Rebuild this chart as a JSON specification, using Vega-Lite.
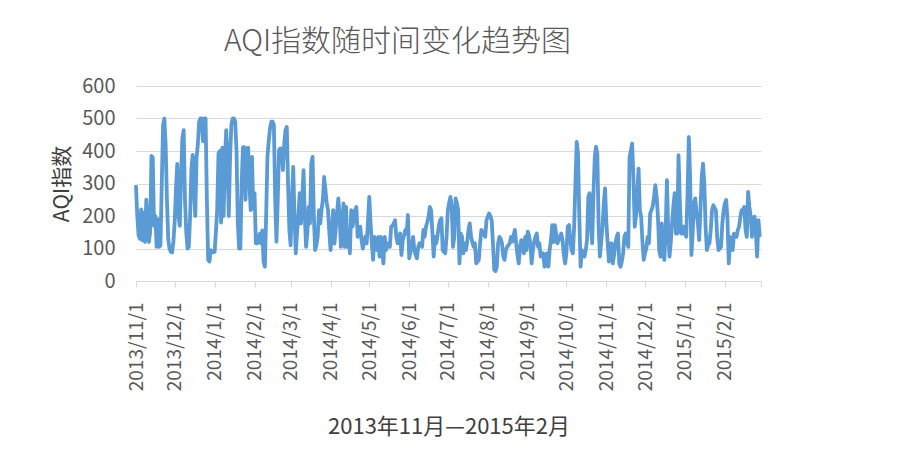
{
  "$schema": "https://vega.github.io/schema/vega-lite/v6.json",
  "width": 625,
  "height": 195,
  "autosize": {"type": "none"},
  "padding": {"left": 136, "top": 86, "right": 142, "bottom": 190},
  "background": "white",
  "title": {"text": "AQI指数随时间变化趋势图", "fontSize": 30, "fontWeight": 300, "color": "#595959", "anchor": "middle", "frame": "group", "dx": -51, "offset": 19, "font": "Noto Sans CJK SC"},
  "datasets": {
    "aqi": [
{"date":"2013/11/1","aqi":290},{"date":"2013/11/2","aqi":200},{"date":"2013/11/3","aqi":140},{"date":"2013/11/4","aqi":130},{"date":"2013/11/5","aqi":220},{"date":"2013/11/6","aqi":125},{"date":"2013/11/7","aqi":210},{"date":"2013/11/8","aqi":120},{"date":"2013/11/9","aqi":250},{"date":"2013/11/10","aqi":190},{"date":"2013/11/11","aqi":120},{"date":"2013/11/12","aqi":150},{"date":"2013/11/13","aqi":385},{"date":"2013/11/14","aqi":380},{"date":"2013/11/15","aqi":170},{"date":"2013/11/16","aqi":200},{"date":"2013/11/17","aqi":105},{"date":"2013/11/18","aqi":190},{"date":"2013/11/19","aqi":105},{"date":"2013/11/20","aqi":110},{"date":"2013/11/21","aqi":300},{"date":"2013/11/22","aqi":480},{"date":"2013/11/23","aqi":500},{"date":"2013/11/24","aqi":420},{"date":"2013/11/25","aqi":250},{"date":"2013/11/26","aqi":130},{"date":"2013/11/27","aqi":100},{"date":"2013/11/28","aqi":90},{"date":"2013/11/29","aqi":88},{"date":"2013/11/30","aqi":120},
{"date":"2013/12/1","aqi":180},{"date":"2013/12/2","aqi":280},{"date":"2013/12/3","aqi":360},{"date":"2013/12/4","aqi":200},{"date":"2013/12/5","aqi":170},{"date":"2013/12/6","aqi":330},{"date":"2013/12/7","aqi":440},{"date":"2013/12/8","aqi":464},{"date":"2013/12/9","aqi":250},{"date":"2013/12/10","aqi":150},{"date":"2013/12/11","aqi":100},{"date":"2013/12/12","aqi":105},{"date":"2013/12/13","aqi":200},{"date":"2013/12/14","aqi":345},{"date":"2013/12/15","aqi":388},{"date":"2013/12/16","aqi":280},{"date":"2013/12/17","aqi":200},{"date":"2013/12/18","aqi":380},{"date":"2013/12/19","aqi":420},{"date":"2013/12/20","aqi":490},{"date":"2013/12/21","aqi":500},{"date":"2013/12/22","aqi":500},{"date":"2013/12/23","aqi":430},{"date":"2013/12/24","aqi":500},{"date":"2013/12/25","aqi":500},{"date":"2013/12/26","aqi":250},{"date":"2013/12/27","aqi":65},{"date":"2013/12/28","aqi":60},{"date":"2013/12/29","aqi":95},{"date":"2013/12/30","aqi":90},{"date":"2013/12/31","aqi":88},
{"date":"2014/1/1","aqi":90},{"date":"2014/1/2","aqi":150},{"date":"2014/1/3","aqi":220},{"date":"2014/1/4","aqi":392},{"date":"2014/1/5","aqi":400},{"date":"2014/1/6","aqi":180},{"date":"2014/1/7","aqi":410},{"date":"2014/1/8","aqi":200},{"date":"2014/1/9","aqi":370},{"date":"2014/1/10","aqi":464},{"date":"2014/1/11","aqi":380},{"date":"2014/1/12","aqi":200},{"date":"2014/1/13","aqi":380},{"date":"2014/1/14","aqi":480},{"date":"2014/1/15","aqi":500},{"date":"2014/1/16","aqi":500},{"date":"2014/1/17","aqi":490},{"date":"2014/1/18","aqi":400},{"date":"2014/1/19","aqi":180},{"date":"2014/1/20","aqi":100},{"date":"2014/1/21","aqi":100},{"date":"2014/1/22","aqi":300},{"date":"2014/1/23","aqi":412},{"date":"2014/1/24","aqi":412},{"date":"2014/1/25","aqi":250},{"date":"2014/1/26","aqi":408},{"date":"2014/1/27","aqi":410},{"date":"2014/1/28","aqi":300},{"date":"2014/1/29","aqi":218},{"date":"2014/1/30","aqi":382},{"date":"2014/1/31","aqi":223},
{"date":"2014/2/1","aqi":270},{"date":"2014/2/2","aqi":116},{"date":"2014/2/3","aqi":116},{"date":"2014/2/4","aqi":120},{"date":"2014/2/5","aqi":146},{"date":"2014/2/6","aqi":116},{"date":"2014/2/7","aqi":156},{"date":"2014/2/8","aqi":60},{"date":"2014/2/9","aqi":44},{"date":"2014/2/10","aqi":200},{"date":"2014/2/11","aqi":382},{"date":"2014/2/12","aqi":430},{"date":"2014/2/13","aqi":470},{"date":"2014/2/14","aqi":490},{"date":"2014/2/15","aqi":490},{"date":"2014/2/16","aqi":480},{"date":"2014/2/17","aqi":250},{"date":"2014/2/18","aqi":121},{"date":"2014/2/19","aqi":250},{"date":"2014/2/20","aqi":402},{"date":"2014/2/21","aqi":408},{"date":"2014/2/22","aqi":408},{"date":"2014/2/23","aqi":341},{"date":"2014/2/24","aqi":420},{"date":"2014/2/25","aqi":464},{"date":"2014/2/26","aqi":474},{"date":"2014/2/27","aqi":300},{"date":"2014/2/28","aqi":157},
{"date":"2014/3/1","aqi":110},{"date":"2014/3/2","aqi":250},{"date":"2014/3/3","aqi":351},{"date":"2014/3/4","aqi":200},{"date":"2014/3/5","aqi":85},{"date":"2014/3/6","aqi":150},{"date":"2014/3/7","aqi":200},{"date":"2014/3/8","aqi":270},{"date":"2014/3/9","aqi":177},{"date":"2014/3/10","aqi":250},{"date":"2014/3/11","aqi":341},{"date":"2014/3/12","aqi":200},{"date":"2014/3/13","aqi":105},{"date":"2014/3/14","aqi":150},{"date":"2014/3/15","aqi":228},{"date":"2014/3/16","aqi":177},{"date":"2014/3/17","aqi":361},{"date":"2014/3/18","aqi":382},{"date":"2014/3/19","aqi":200},{"date":"2014/3/20","aqi":95},{"date":"2014/3/21","aqi":110},{"date":"2014/3/22","aqi":136},{"date":"2014/3/23","aqi":218},{"date":"2014/3/24","aqi":177},{"date":"2014/3/25","aqi":220},{"date":"2014/3/26","aqi":250},{"date":"2014/3/27","aqi":320},{"date":"2014/3/28","aqi":280},{"date":"2014/3/29","aqi":240},{"date":"2014/3/30","aqi":218},{"date":"2014/3/31","aqi":150},
{"date":"2014/4/1","aqi":95},{"date":"2014/4/2","aqi":150},{"date":"2014/4/3","aqi":218},{"date":"2014/4/4","aqi":115},{"date":"2014/4/5","aqi":160},{"date":"2014/4/6","aqi":210},{"date":"2014/4/7","aqi":254},{"date":"2014/4/8","aqi":200},{"date":"2014/4/9","aqi":105},{"date":"2014/4/10","aqi":150},{"date":"2014/4/11","aqi":239},{"date":"2014/4/12","aqi":105},{"date":"2014/4/13","aqi":228},{"date":"2014/4/14","aqi":105},{"date":"2014/4/15","aqi":150},{"date":"2014/4/16","aqi":85},{"date":"2014/4/17","aqi":218},{"date":"2014/4/18","aqi":167},{"date":"2014/4/19","aqi":190},{"date":"2014/4/20","aqi":218},{"date":"2014/4/21","aqi":228},{"date":"2014/4/22","aqi":136},{"date":"2014/4/23","aqi":150},{"date":"2014/4/24","aqi":167},{"date":"2014/4/25","aqi":126},{"date":"2014/4/26","aqi":100},{"date":"2014/4/27","aqi":120},{"date":"2014/4/28","aqi":136},{"date":"2014/4/29","aqi":116},{"date":"2014/4/30","aqi":180},
{"date":"2014/5/1","aqi":259},{"date":"2014/5/2","aqi":180},{"date":"2014/5/3","aqi":116},{"date":"2014/5/4","aqi":65},{"date":"2014/5/5","aqi":136},{"date":"2014/5/6","aqi":110},{"date":"2014/5/7","aqi":95},{"date":"2014/5/8","aqi":136},{"date":"2014/5/9","aqi":75},{"date":"2014/5/10","aqi":136},{"date":"2014/5/11","aqi":90},{"date":"2014/5/12","aqi":54},{"date":"2014/5/13","aqi":136},{"date":"2014/5/14","aqi":95},{"date":"2014/5/15","aqi":110},{"date":"2014/5/16","aqi":116},{"date":"2014/5/17","aqi":105},{"date":"2014/5/18","aqi":167},{"date":"2014/5/19","aqi":170},{"date":"2014/5/20","aqi":177},{"date":"2014/5/21","aqi":187},{"date":"2014/5/22","aqi":136},{"date":"2014/5/23","aqi":116},{"date":"2014/5/24","aqi":130},{"date":"2014/5/25","aqi":146},{"date":"2014/5/26","aqi":80},{"date":"2014/5/27","aqi":126},{"date":"2014/5/28","aqi":140},{"date":"2014/5/29","aqi":157},{"date":"2014/5/30","aqi":146},{"date":"2014/5/31","aqi":203},
{"date":"2014/6/1","aqi":70},{"date":"2014/6/2","aqi":90},{"date":"2014/6/3","aqi":105},{"date":"2014/6/4","aqi":136},{"date":"2014/6/5","aqi":95},{"date":"2014/6/6","aqi":80},{"date":"2014/6/7","aqi":70},{"date":"2014/6/8","aqi":105},{"date":"2014/6/9","aqi":116},{"date":"2014/6/10","aqi":110},{"date":"2014/6/11","aqi":105},{"date":"2014/6/12","aqi":157},{"date":"2014/6/13","aqi":136},{"date":"2014/6/14","aqi":167},{"date":"2014/6/15","aqi":180},{"date":"2014/6/16","aqi":198},{"date":"2014/6/17","aqi":228},{"date":"2014/6/18","aqi":218},{"date":"2014/6/19","aqi":150},{"date":"2014/6/20","aqi":75},{"date":"2014/6/21","aqi":136},{"date":"2014/6/22","aqi":116},{"date":"2014/6/23","aqi":140},{"date":"2014/6/24","aqi":170},{"date":"2014/6/25","aqi":187},{"date":"2014/6/26","aqi":193},{"date":"2014/6/27","aqi":95},{"date":"2014/6/28","aqi":90},{"date":"2014/6/29","aqi":85},{"date":"2014/6/30","aqi":136},
{"date":"2014/7/1","aqi":218},{"date":"2014/7/2","aqi":240},{"date":"2014/7/3","aqi":259},{"date":"2014/7/4","aqi":228},{"date":"2014/7/5","aqi":105},{"date":"2014/7/6","aqi":136},{"date":"2014/7/7","aqi":254},{"date":"2014/7/8","aqi":240},{"date":"2014/7/9","aqi":218},{"date":"2014/7/10","aqi":54},{"date":"2014/7/11","aqi":146},{"date":"2014/7/12","aqi":136},{"date":"2014/7/13","aqi":85},{"date":"2014/7/14","aqi":116},{"date":"2014/7/15","aqi":95},{"date":"2014/7/16","aqi":120},{"date":"2014/7/17","aqi":157},{"date":"2014/7/18","aqi":177},{"date":"2014/7/19","aqi":136},{"date":"2014/7/20","aqi":120},{"date":"2014/7/21","aqi":105},{"date":"2014/7/22","aqi":116},{"date":"2014/7/23","aqi":54},{"date":"2014/7/24","aqi":60},{"date":"2014/7/25","aqi":65},{"date":"2014/7/26","aqi":116},{"date":"2014/7/27","aqi":157},{"date":"2014/7/28","aqi":152},{"date":"2014/7/29","aqi":145},{"date":"2014/7/30","aqi":136},{"date":"2014/7/31","aqi":187},
{"date":"2014/8/1","aqi":198},{"date":"2014/8/2","aqi":208},{"date":"2014/8/3","aqi":200},{"date":"2014/8/4","aqi":187},{"date":"2014/8/5","aqi":116},{"date":"2014/8/6","aqi":34},{"date":"2014/8/7","aqi":30},{"date":"2014/8/8","aqi":44},{"date":"2014/8/9","aqi":116},{"date":"2014/8/10","aqi":136},{"date":"2014/8/11","aqi":130},{"date":"2014/8/12","aqi":116},{"date":"2014/8/13","aqi":75},{"date":"2014/8/14","aqi":65},{"date":"2014/8/15","aqi":95},{"date":"2014/8/16","aqi":105},{"date":"2014/8/17","aqi":110},{"date":"2014/8/18","aqi":116},{"date":"2014/8/19","aqi":136},{"date":"2014/8/20","aqi":121},{"date":"2014/8/21","aqi":140},{"date":"2014/8/22","aqi":157},{"date":"2014/8/23","aqi":116},{"date":"2014/8/24","aqi":80},{"date":"2014/8/25","aqi":54},{"date":"2014/8/26","aqi":105},{"date":"2014/8/27","aqi":126},{"date":"2014/8/28","aqi":100},{"date":"2014/8/29","aqi":85},{"date":"2014/8/30","aqi":136},{"date":"2014/8/31","aqi":95},
{"date":"2014/9/1","aqi":152},{"date":"2014/9/2","aqi":140},{"date":"2014/9/3","aqi":116},{"date":"2014/9/4","aqi":54},{"date":"2014/9/5","aqi":95},{"date":"2014/9/6","aqi":120},{"date":"2014/9/7","aqi":136},{"date":"2014/9/8","aqi":146},{"date":"2014/9/9","aqi":105},{"date":"2014/9/10","aqi":116},{"date":"2014/9/11","aqi":75},{"date":"2014/9/12","aqi":80},{"date":"2014/9/13","aqi":85},{"date":"2014/9/14","aqi":44},{"date":"2014/9/15","aqi":80},{"date":"2014/9/16","aqi":85},{"date":"2014/9/17","aqi":44},{"date":"2014/9/18","aqi":95},{"date":"2014/9/19","aqi":126},{"date":"2014/9/20","aqi":172},{"date":"2014/9/21","aqi":120},{"date":"2014/9/22","aqi":172},{"date":"2014/9/23","aqi":146},{"date":"2014/9/24","aqi":116},{"date":"2014/9/25","aqi":125},{"date":"2014/9/26","aqi":136},{"date":"2014/9/27","aqi":146},{"date":"2014/9/28","aqi":126},{"date":"2014/9/29","aqi":80},{"date":"2014/9/30","aqi":54},
{"date":"2014/10/1","aqi":85},{"date":"2014/10/2","aqi":167},{"date":"2014/10/3","aqi":172},{"date":"2014/10/4","aqi":130},{"date":"2014/10/5","aqi":95},{"date":"2014/10/6","aqi":85},{"date":"2014/10/7","aqi":167},{"date":"2014/10/8","aqi":300},{"date":"2014/10/9","aqi":428},{"date":"2014/10/10","aqi":392},{"date":"2014/10/11","aqi":200},{"date":"2014/10/12","aqi":44},{"date":"2014/10/13","aqi":95},{"date":"2014/10/14","aqi":80},{"date":"2014/10/15","aqi":75},{"date":"2014/10/16","aqi":95},{"date":"2014/10/17","aqi":126},{"date":"2014/10/18","aqi":259},{"date":"2014/10/19","aqi":270},{"date":"2014/10/20","aqi":167},{"date":"2014/10/21","aqi":116},{"date":"2014/10/22","aqi":270},{"date":"2014/10/23","aqi":380},{"date":"2014/10/24","aqi":413},{"date":"2014/10/25","aqi":392},{"date":"2014/10/26","aqi":167},{"date":"2014/10/27","aqi":75},{"date":"2014/10/28","aqi":120},{"date":"2014/10/29","aqi":167},{"date":"2014/10/30","aqi":239},{"date":"2014/10/31","aqi":285},
{"date":"2014/11/1","aqi":180},{"date":"2014/11/2","aqi":116},{"date":"2014/11/3","aqi":60},{"date":"2014/11/4","aqi":116},{"date":"2014/11/5","aqi":116},{"date":"2014/11/6","aqi":54},{"date":"2014/11/7","aqi":80},{"date":"2014/11/8","aqi":116},{"date":"2014/11/9","aqi":136},{"date":"2014/11/10","aqi":146},{"date":"2014/11/11","aqi":54},{"date":"2014/11/12","aqi":44},{"date":"2014/11/13","aqi":60},{"date":"2014/11/14","aqi":85},{"date":"2014/11/15","aqi":136},{"date":"2014/11/16","aqi":146},{"date":"2014/11/17","aqi":120},{"date":"2014/11/18","aqi":105},{"date":"2014/11/19","aqi":382},{"date":"2014/11/20","aqi":400},{"date":"2014/11/21","aqi":423},{"date":"2014/11/22","aqi":320},{"date":"2014/11/23","aqi":167},{"date":"2014/11/24","aqi":200},{"date":"2014/11/25","aqi":270},{"date":"2014/11/26","aqi":346},{"date":"2014/11/27","aqi":218},{"date":"2014/11/28","aqi":198},{"date":"2014/11/29","aqi":120},{"date":"2014/11/30","aqi":65},
{"date":"2014/12/1","aqi":85},{"date":"2014/12/2","aqi":100},{"date":"2014/12/3","aqi":136},{"date":"2014/12/4","aqi":116},{"date":"2014/12/5","aqi":208},{"date":"2014/12/6","aqi":218},{"date":"2014/12/7","aqi":230},{"date":"2014/12/8","aqi":259},{"date":"2014/12/9","aqi":295},{"date":"2014/12/10","aqi":260},{"date":"2014/12/11","aqi":200},{"date":"2014/12/12","aqi":95},{"date":"2014/12/13","aqi":75},{"date":"2014/12/14","aqi":177},{"date":"2014/12/15","aqi":85},{"date":"2014/12/16","aqi":65},{"date":"2014/12/17","aqi":157},{"date":"2014/12/18","aqi":310},{"date":"2014/12/19","aqi":157},{"date":"2014/12/20","aqi":75},{"date":"2014/12/21","aqi":120},{"date":"2014/12/22","aqi":177},{"date":"2014/12/23","aqi":230},{"date":"2014/12/24","aqi":270},{"date":"2014/12/25","aqi":146},{"date":"2014/12/26","aqi":146},{"date":"2014/12/27","aqi":387},{"date":"2014/12/28","aqi":250},{"date":"2014/12/29","aqi":146},{"date":"2014/12/30","aqi":146},{"date":"2014/12/31","aqi":167},
{"date":"2015/1/1","aqi":150},{"date":"2015/1/2","aqi":136},{"date":"2015/1/3","aqi":270},{"date":"2015/1/4","aqi":443},{"date":"2015/1/5","aqi":320},{"date":"2015/1/6","aqi":80},{"date":"2015/1/7","aqi":150},{"date":"2015/1/8","aqi":239},{"date":"2015/1/9","aqi":254},{"date":"2015/1/10","aqi":208},{"date":"2015/1/11","aqi":180},{"date":"2015/1/12","aqi":126},{"date":"2015/1/13","aqi":218},{"date":"2015/1/14","aqi":320},{"date":"2015/1/15","aqi":361},{"date":"2015/1/16","aqi":300},{"date":"2015/1/17","aqi":167},{"date":"2015/1/18","aqi":95},{"date":"2015/1/19","aqi":110},{"date":"2015/1/20","aqi":116},{"date":"2015/1/21","aqi":157},{"date":"2015/1/22","aqi":218},{"date":"2015/1/23","aqi":233},{"date":"2015/1/24","aqi":225},{"date":"2015/1/25","aqi":218},{"date":"2015/1/26","aqi":136},{"date":"2015/1/27","aqi":95},{"date":"2015/1/28","aqi":100},{"date":"2015/1/29","aqi":105},{"date":"2015/1/30","aqi":177},{"date":"2015/1/31","aqi":218},
{"date":"2015/2/1","aqi":240},{"date":"2015/2/2","aqi":249},{"date":"2015/2/3","aqi":187},{"date":"2015/2/4","aqi":54},{"date":"2015/2/5","aqi":136},{"date":"2015/2/6","aqi":110},{"date":"2015/2/7","aqi":95},{"date":"2015/2/8","aqi":146},{"date":"2015/2/9","aqi":140},{"date":"2015/2/10","aqi":136},{"date":"2015/2/11","aqi":157},{"date":"2015/2/12","aqi":167},{"date":"2015/2/13","aqi":198},{"date":"2015/2/14","aqi":218},{"date":"2015/2/15","aqi":220},{"date":"2015/2/16","aqi":228},{"date":"2015/2/17","aqi":157},{"date":"2015/2/18","aqi":136},{"date":"2015/2/19","aqi":274},{"date":"2015/2/20","aqi":228},{"date":"2015/2/21","aqi":200},{"date":"2015/2/22","aqi":136},{"date":"2015/2/23","aqi":177},{"date":"2015/2/24","aqi":198},{"date":"2015/2/25","aqi":150},{"date":"2015/2/26","aqi":75},{"date":"2015/2/27","aqi":187},{"date":"2015/2/28","aqi":140}
    ]
  },
  "data": {"name": "aqi"},
  "mark": {"type": "line", "color": "#5b9bd5", "strokeWidth": 3.8, "strokeJoin": "round", "strokeCap": "round"},
  "encoding": {
    "x": {
      "field": "date",
      "type": "temporal",
      "scale": {"domain": [{"year": 2013, "month": 11, "date": 1}, {"year": 2015, "month": 3, "date": 1}]},
      "axis": {
        "title": "2013年11月—2015年2月",
        "values": [
          {"year": 2013, "month": 11, "date": 1}, {"year": 2013, "month": 12, "date": 1},
          {"year": 2014, "month": 1, "date": 1}, {"year": 2014, "month": 2, "date": 1}, {"year": 2014, "month": 3, "date": 1},
          {"year": 2014, "month": 4, "date": 1}, {"year": 2014, "month": 5, "date": 1}, {"year": 2014, "month": 6, "date": 1},
          {"year": 2014, "month": 7, "date": 1}, {"year": 2014, "month": 8, "date": 1}, {"year": 2014, "month": 9, "date": 1},
          {"year": 2014, "month": 10, "date": 1}, {"year": 2014, "month": 11, "date": 1}, {"year": 2014, "month": 12, "date": 1},
          {"year": 2015, "month": 1, "date": 1}, {"year": 2015, "month": 2, "date": 1}, {"year": 2015, "month": 3, "date": 1}
        ],
        "format": "%Y/%-m/%-d",
        "labelExpr": "year(datum.value) == 2015 && month(datum.value) == 2 ? '' : datum.label",
        "labelAngle": -90,
        "labelFontSize": 19,
        "labelColor": "#595959",
        "labelOverlap": false,
        "labelFlush": false,
        "labelPadding": 15,
        "tickSize": 6,
        "tickColor": "#d9d9d9",
        "domainColor": "#d9d9d9",
        "grid": false,
        "titleFontSize": 22,
        "titleFontWeight": "normal",
        "titleColor": "#404040",
        "titlePadding": 26
      }
    },
    "y": {
      "field": "aqi",
      "type": "quantitative",
      "scale": {"domain": [0, 600], "nice": false},
      "axis": {
        "title": "AQI指数",
        "values": [0, 100, 200, 300, 400, 500, 600],
        "domain": false,
        "ticks": false,
        "labelPadding": 21,
        "labelFontSize": 20,
        "labelColor": "#595959",
        "gridColor": "#d9d9d9",
        "titleFontSize": 21,
        "titleFontWeight": "normal",
        "titleColor": "#404040",
        "titlePadding": 9
      }
    }
  },
  "config": {
    "font": "Noto Sans CJK SC",
    "view": {"stroke": null}
  }
}
